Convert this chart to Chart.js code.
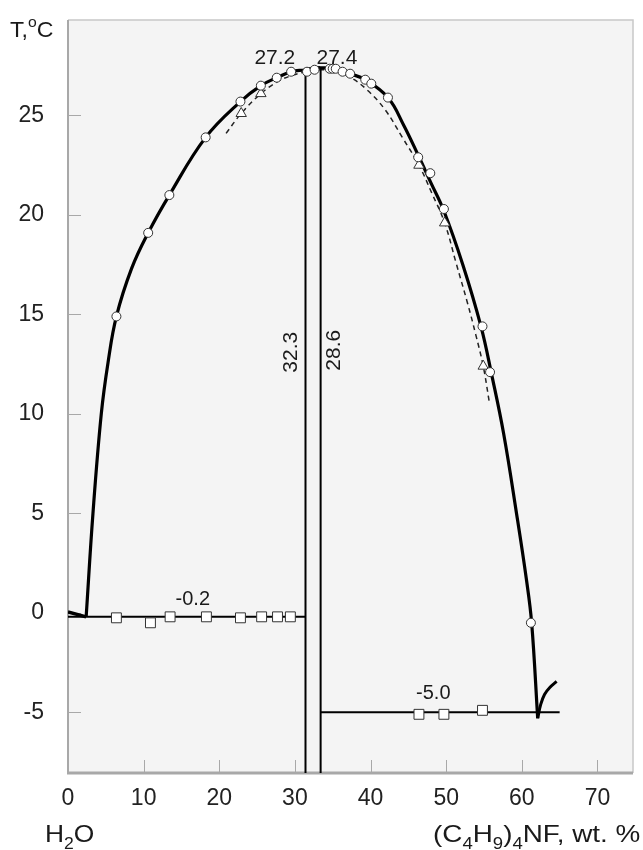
<!DOCTYPE html>
<html><head><meta charset="utf-8">
<script src="https://cdn.jsdelivr.net/npm/chart.js@4.4.0/dist/chart.umd.min.js"></script>
<style>html,body{margin:0;padding:0;background:#fff;}#wrap{width:643px;height:850px;}</style>
</head><body><div id="wrap"><canvas id="c" width="643" height="850"></canvas></div>
<script>
// ---- axis ranges & tick labels ----
const X_MIN = 0, X_MAX = 74.7, Y_MIN = -8.05, Y_MAX = 29.8;
const xTicks = [0, 10, 20, 30, 40, 50, 60, 70];
const yTicks = [-5, 0, 5, 10, 15, 20, 25];

// ---- solid binodal curve ----
const binodalX = [2.4, 3.3, 4.4, 5.3, 6.4, 8.4, 10.6, 13.4, 18.2, 22.8, 25.5, 27.6, 29.5, 31.4, 32.5, 33.4, 35.3, 37.3, 39.3, 42.3, 44.4, 46.3, 48.0, 49.7, 52.2, 54.6, 56.0, 57.6, 59.3, 60.6, 61.3, 62.1];
const binodalT = [-0.2, 5.0, 10.0, 12.6, 14.9, 17.3, 19.1, 21.0, 23.9, 25.7, 26.5, 26.9, 27.2, 27.3, 27.4, 27.4, 27.35, 27.1, 26.8, 25.9, 24.5, 23.0, 21.6, 20.2, 17.5, 14.4, 12.0, 9.0, 5.0, 1.7, -0.5, -5.3];

// ---- dashed curve ----
const dashedX = [20.9, 22.9, 25.5, 27.7, 29.5, 31.5, 33.4, 35.4, 37.4, 39.5, 41.9, 44.2, 46.4, 48.1, 49.8, 51.3, 52.8, 53.9, 54.9, 55.7];
const dashedT = [24.1, 25.1, 26.1, 26.7, 27.0, 27.2, 27.3, 27.2, 26.9, 26.3, 25.3, 23.9, 22.5, 21.1, 19.6, 17.6, 15.6, 14.0, 12.4, 10.6];

// ---- ice liquidus (left) and right branch ----
const iceX = [0, 2.4];
const iceT = [0.05, -0.2];
const branchX = [62.1, 62.5, 63.0, 63.7, 64.6];
const branchT = [-5.3, -4.6, -4.1, -3.75, -3.45];

// ---- invariant lines ----
const eut1X = [0, 31.4];
const eut1T = [-0.2, -0.2];
const eut2X = [33.4, 65.0];
const eut2T = [-5.0, -5.0];
const vert1X = [31.4, 31.4];
const vert1T = [Y_MIN, 27.3];
const vert2X = [33.4, 33.4];
const vert2T = [Y_MIN, 27.4];

// ---- experimental points ----
const circleX = [6.4, 10.6, 13.4, 18.2, 22.8, 25.5, 27.6, 29.5, 31.6, 32.6, 34.6, 35.0, 35.4, 36.3, 37.3, 39.3, 40.1, 42.3, 46.3, 47.9, 49.7, 54.8, 55.8, 61.2];
const circleT = [14.9, 19.1, 21.0, 23.9, 25.7, 26.5, 26.9, 27.2, 27.2, 27.3, 27.35, 27.35, 27.35, 27.2, 27.1, 26.8, 26.6, 25.9, 22.9, 22.1, 20.3, 14.4, 12.1, -0.5];
const triX = [22.9, 25.5, 46.4, 49.8, 54.9];
const triT = [25.1, 26.1, 22.5, 19.6, 12.4];
const sqX = [6.4, 10.9, 13.5, 18.3, 22.8, 25.6, 27.7, 29.4, 46.4, 49.7, 54.8];
const sqT = [-0.25, -0.5, -0.2, -0.2, -0.25, -0.2, -0.2, -0.2, -5.1, -5.1, -4.9];

// ---- annotation labels ----
const annoText = ['27.2', '27.4', '-0.2', '-5.0', '32.3', '28.6'];
const annoX = [27.35, 35.55, 16.5, 48.3, 29.5, 35.2];
const annoT = [27.9, 27.9, 0.65, -4.07, 13.1, 13.2];
const annoRot = [0, 0, 0, 0, -90, -90];

const FONT = '"Liberation Sans", Arial, Helvetica, sans-serif';
const pts = (xs, ys) => xs.map((v, i) => ({x: v, y: ys[i]}));

function lineDS(xs, ys, w, extra) {
  return Object.assign({data: pts(xs, ys), showLine: true, borderColor: '#000', borderWidth: w,
    pointRadius: 0, pointHoverRadius: 0, fill: false, tension: 0, order: 2, borderCapStyle: 'butt'}, extra || {});
}
function markDS(xs, ys, style, r) {
  return {data: pts(xs, ys), showLine: false, pointStyle: style, pointRadius: r, pointHoverRadius: r,
    backgroundColor: '#fff', borderColor: '#333', pointBorderWidth: 1, borderWidth: 1, order: 0};
}

const bgPlugin = {
  id: 'bg',
  beforeDraw(chart) {
    const {ctx, chartArea: a} = chart;
    ctx.save();
    ctx.fillStyle = '#fff';
    ctx.fillRect(0, 0, chart.width, chart.height);
    ctx.fillStyle = '#f4f4f4';
    ctx.fillRect(a.left, a.top, a.right - a.left, a.bottom - a.top);
    ctx.restore();
  },
  beforeDatasetsDraw(chart) {
    const {ctx, chartArea: a, scales: {x, y}} = chart;
    ctx.save();
    ctx.strokeStyle = '#a8a8a8';
    ctx.lineWidth = 1;
    yTicks.forEach(v => {
      const py = Math.round(y.getPixelForValue(v)) + 0.5;
      ctx.beginPath(); ctx.moveTo(a.left, py); ctx.lineTo(a.left + 13, py); ctx.stroke();
    });
    xTicks.forEach(v => {
      const px = Math.round(x.getPixelForValue(v)) + 0.5;
      ctx.beginPath(); ctx.moveTo(px, a.bottom); ctx.lineTo(px, a.bottom - 13); ctx.stroke();
    });
    ctx.strokeStyle = '#c8c8c8';
    ctx.lineWidth = 1.5;
    ctx.beginPath(); ctx.moveTo(a.left, a.top); ctx.lineTo(a.right, a.top); ctx.lineTo(a.right, a.bottom); ctx.stroke();
    ctx.strokeStyle = '#a8a8a8';
    ctx.lineWidth = 2;
    ctx.beginPath(); ctx.moveTo(a.left, a.top); ctx.lineTo(a.left, a.bottom); ctx.stroke();
    ctx.lineWidth = 3;
    ctx.beginPath(); ctx.moveTo(a.left - 1, a.bottom); ctx.lineTo(a.right, a.bottom); ctx.stroke();
    ctx.restore();
  }
};

function drawRich(ctx, parts, x, baseline, size, sx) {
  ctx.save();
  ctx.translate(x, baseline);
  ctx.scale(sx || 1, 1);
  let cx = 0;
  parts.forEach(p => {
    const fs = p.s ? Math.round(size * 0.66) : size;
    ctx.font = fs + 'px ' + FONT;
    const dy = p.s === 'sub' ? size * 0.3 : (p.s === 'sup' ? -size * 0.45 : 0);
    ctx.fillText(p.t, cx, dy);
    cx += ctx.measureText(p.t).width;
  });
  ctx.restore();
}

const textPlugin = {
  id: 'texts',
  afterDatasetsDraw(chart) {
    const {ctx, scales: {x, y}} = chart;
    ctx.save();
    ctx.fillStyle = '#1a1a1a';
    ctx.textAlign = 'center';
    ctx.textBaseline = 'middle';
    annoText.forEach((t, i) => {
      const px = x.getPixelForValue(annoX[i]);
      const py = y.getPixelForValue(annoT[i]);
      ctx.save();
      ctx.translate(px, py);
      ctx.rotate(annoRot[i] * Math.PI / 180);
      ctx.font = (i === 2 || i === 3 ? 20 : 21) + 'px ' + FONT;
      ctx.fillText(t, 0, 0);
      ctx.restore();
    });
    ctx.textAlign = 'left';
    ctx.textBaseline = 'alphabetic';
    drawRich(ctx, [{t: 'T,'}, {t: 'o', s: 'sup'}, {t: 'C'}], 10, 37, 22, 1.05);
    drawRich(ctx, [{t: 'H'}, {t: '2', s: 'sub'}, {t: 'O'}], 45, 842, 24, 1.1);
    drawRich(ctx, [{t: '(C'}, {t: '4', s: 'sub'}, {t: 'H'}, {t: '9', s: 'sub'}, {t: ')'}, {t: '4', s: 'sub'}, {t: 'NF, wt. %'}], 433, 842, 24, 1.16);
    ctx.restore();
  }
};

const smooth = {tension: 0.4};

new Chart(document.getElementById('c'), {
  type: 'scatter',
  data: {
    datasets: [
      markDS(circleX, circleT, 'circle', 4.5),
      markDS(triX, triT, 'triangle', 6),
      markDS(sqX, sqT, 'rect', 7),
      lineDS(binodalX, binodalT, 3.2, smooth),
      lineDS(dashedX, dashedT, 1.5, {tension: 0.4, borderDash: [5, 4], borderColor: '#222', order: 3}),
      lineDS(iceX, iceT, 3.5),
      lineDS(branchX, branchT, 3, smooth),
      lineDS(eut1X, eut1T, 2),
      lineDS(eut2X, eut2T, 2),
      lineDS(vert1X, vert1T, 2),
      lineDS(vert2X, vert2T, 2)
    ]
  },
  options: {
    responsive: false,
    animation: false,
    devicePixelRatio: 1,
    layout: {padding: {top: 20, right: 10, left: 0, bottom: 0}},
    plugins: {legend: {display: false}, tooltip: {enabled: false}},
    scales: {
      x: {
        type: 'linear', min: X_MIN, max: X_MAX,
        grid: {display: false, drawTicks: false}, border: {display: false},
        afterBuildTicks: s => { s.ticks = xTicks.map(v => ({value: v})); },
        afterFit: s => { s.height = 77; s.paddingLeft = 0; s.paddingRight = 0; },
        ticks: {padding: 12, color: '#222', font: {family: FONT, size: 23}, callback: v => String(v), maxRotation: 0, autoSkip: false}
      },
      y: {
        type: 'linear', min: Y_MIN, max: Y_MAX,
        grid: {display: false, drawTicks: false}, border: {display: false},
        afterBuildTicks: s => { s.ticks = yTicks.map(v => ({value: v})); },
        afterFit: s => { s.width = 68; s.paddingTop = 0; s.paddingBottom = 0; },
        ticks: {padding: 24, color: '#222', font: {family: FONT, size: 23}, callback: v => String(v), autoSkip: false}
      }
    }
  },
  plugins: [bgPlugin, textPlugin]
});
</script>
</body></html>
